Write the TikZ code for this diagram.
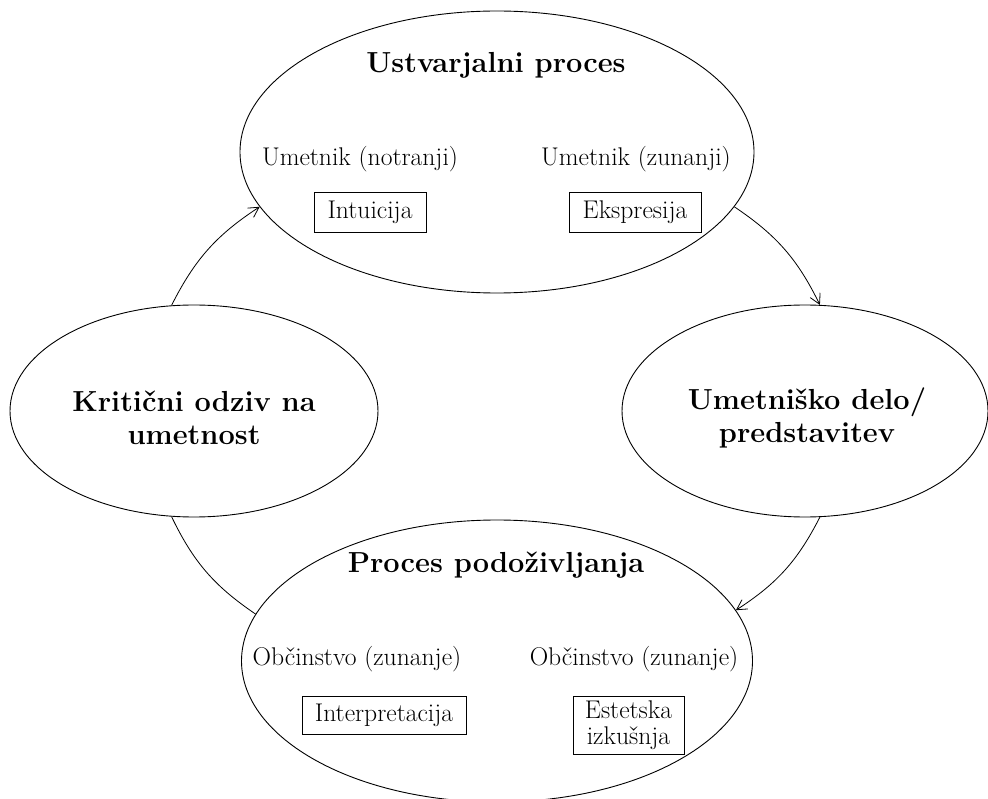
\documentclass[tikz,border=0pt]{standalone}
\usetikzlibrary{shapes.geometric,arrows.meta}
\tikzset{
  big/.style={ellipse, draw, line width=0.9pt, inner sep=0pt},
  title/.style={font=\bfseries\fontsize{29}{32.5}\selectfont, align=center, inner sep=0pt},
  lab/.style={font=\fontsize{25.6}{26.5}\selectfont, inner sep=0pt},
  boxed/.style={draw, line width=0.8pt, font=\fontsize{25.6}{26.5}\selectfont, align=center, inner sep=0pt},
  conn/.style={line width=0.8pt},
  arr/.style={conn, -{Straight Barb[length=10pt,width=11pt]}}
}
\begin{document}
\begin{tikzpicture}[x=1pt,y=-1pt]
\useasboundingbox (0,0) rectangle (988,799);
\node[big, minimum width=514pt, minimum height=282pt] (top) at (497,152) {};
\node[big, minimum width=368pt, minimum height=212pt] (left) at (194,411) {};
\node[big, minimum width=366pt, minimum height=212pt] (right) at (805,411) {};
\node[big, minimum width=511pt, minimum height=282pt] (bot) at (497,661) {};
\node[title, anchor=base] (t1) at (496,73) {Ustvarjalni proces};
\node[lab, anchor=base] (l1) at (360,166) {Umetnik (notranji)};
\node[lab, anchor=base] (l2) at (636,166) {Umetnik (zunanji)};
\node[boxed, minimum width=112pt, minimum height=40pt] (b1) at (370,212) {Intuicija};
\node[boxed, minimum width=132pt, minimum height=40pt] (b2) at (635,212) {Ekspresija};
\node[title] (t2) at (194,418) {Kritični odziv na\\umetnost};
\node[title] (t3) at (807,418) {Umetniško delo/\\predstavitev};
\node[title, anchor=base] (t4) at (496,572) {Proces podoživljanja};
\node[lab, anchor=base] (l3) at (357,665) {Občinstvo (zunanje)};
\node[lab, anchor=base] (l4) at (634,665) {Občinstvo (zunanje)};
\node[boxed, minimum width=164pt, minimum height=38pt] (b3) at (384,715) {Interpretacija};
\node[boxed, minimum width=111pt, minimum height=58pt] (b4) at (628.5,725) {Estetska\\izkušnja};
\draw[arr] (left.102) to[bend left=15] (top.193);
\draw[arr] (top.347) to[bend left=15] (right.82);
\draw[arr] (right.278) to[bend left=15] (bot.12);
\draw[conn] (bot.169) to[bend left=15] (left.258);
\end{tikzpicture}
\end{document}
